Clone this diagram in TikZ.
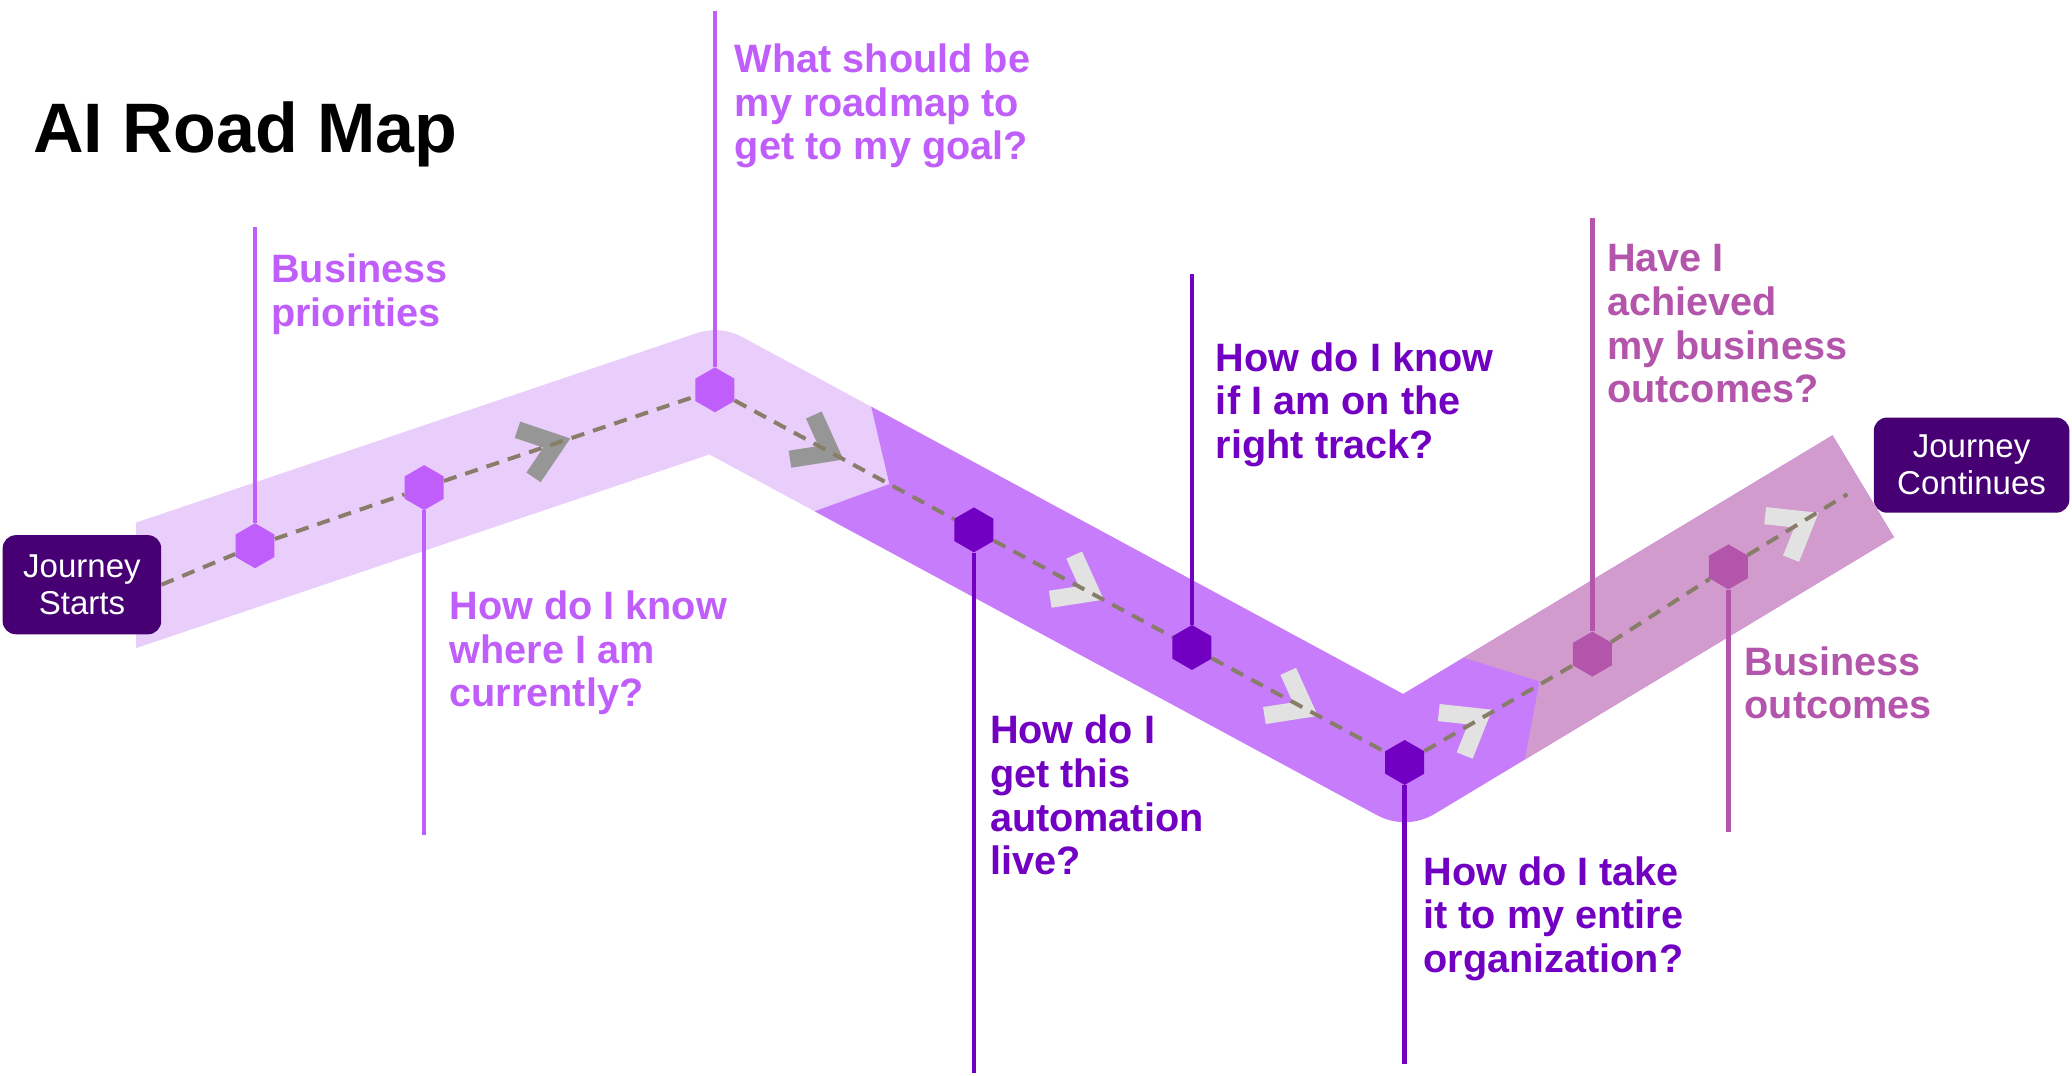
\documentclass[tikz,border=0pt]{standalone}
\usepackage{fontspec}
\setmainfont{Liberation Sans}
\usetikzlibrary{calc,shapes.geometric}
\definecolor{roadlilac}{RGB}{233,205,250}
\definecolor{roadviolet}{RGB}{199,124,251}
\definecolor{roadmauve}{RGB}{210,155,205}
\definecolor{ptlight}{RGB}{191,94,250}
\definecolor{ptdark}{RGB}{114,0,194}
\definecolor{ptmauve}{RGB}{180,85,172}
\definecolor{boxpurple}{RGB}{70,0,115}
\definecolor{trailgray}{RGB}{135,125,105}
\definecolor{chevgray}{RGB}{150,150,150}
\definecolor{chevlight}{RGB}{226,226,226}

\begin{document}
\begin{tikzpicture}[x=1pt,y=1pt,
  road/.style={draw=#1,line width=90pt,line join=round},
  chev/.style={draw=#1,line width=13pt,line join=miter},
  hexa/.style={regular polygon,regular polygon sides=6,shape border rotate=30,minimum size=34pt,inner sep=0pt,fill=#1},
  stem/.style={draw=#1,line width=3.5pt},
  trail/.style={draw=trailgray,line width=3pt,dash pattern=on 10pt off 7pt},
  lbl/.style={anchor=north west,inner sep=0pt,align=left,text=#1,font=\fontsize{30}{33}\selectfont\bfseries},
  jbox/.style={fill=boxpurple,text=white,rounded corners=10pt,align=center,inner sep=0pt,font=\fontsize{25}{28}\selectfont}]
\useasboundingbox (0,0) rectangle (1568,814);
\coordinate (P) at (60,356.5); \coordinate (A) at (541,519); \coordinate (B) at (1063,237); \coordinate (E) at (1410,446);
\coordinate (T1) at ($(A)!0.253!(B)$); \coordinate (T2) at ($(B)!0.294!(E)$);
\begin{scope}
\clip (103,0) rectangle (1568,814);
\draw[road=roadlilac] (P)--(A)--(B)--(E);
\begin{scope}[shift={(T1)},rotate=-28.38]
\clip (-60,67.5)--(0,0)--(-60,-67.5)--(-60,-2000)--(2000,-2000)--(2000,2000)--(-60,2000)--cycle;
\draw[road=roadviolet] (A)--(B)--(E);
\end{scope}
\begin{scope}[shift={(T2)},rotate=31.06]
\clip (-60,67.5)--(0,0)--(-60,-67.5)--(-60,-2000)--(2000,-2000)--(2000,2000)--(-60,2000)--cycle;
\draw[road=roadmauve] (B)--(E);
\end{scope}
\end{scope}
\draw[chev=chevgray,shift={(428,481)},rotate=18.67] (-32,19)--(-7,0)--(-32,-19);
\draw[chev=chevgray,shift={(635,468)},rotate=-28.38] (-32,19)--(-7,0)--(-32,-19);
\draw[chev=chevlight,shift={(832,362)},rotate=-28.38] (-32,19)--(-7,0)--(-32,-19);
\draw[chev=chevlight,shift={(994,274)},rotate=-28.38] (-32,19)--(-7,0)--(-32,-19);
\draw[chev=chevlight,shift={(1126,275)},rotate=31.06] (-32,19)--(-7,0)--(-32,-19);
\draw[chev=chevlight,shift={(1373,424)},rotate=31.06] (-32,19)--(-7,0)--(-32,-19);
\node[hexa=ptlight] (h1) at (193,401) {}; \node[hexa=ptlight] (h2) at (321,445) {}; \node[hexa=ptlight] (h3) at (A) {};
\node[hexa=ptdark] (h4) at (737,413) {}; \node[hexa=ptdark] (h5) at (902,324) {}; \node[hexa=ptdark] (h6) at (B) {};
\node[hexa=ptmauve] (h7) at (1205,319) {}; \node[hexa=ptmauve] (h8) at (1308,385) {};
\node[jbox,minimum width=120pt,minimum height=75pt] (js) at (62,371.5) {Journey\\Starts};
\coordinate (tend) at (1398,440);
\draw[trail] (js.east)--(h1)--(h2)--(h3)--(h4)--(h5)--(h6)--(h7)--(h8)--(tend);
\node[jbox,minimum width=148pt,minimum height=72pt] (jc) at (1492,462) {Journey\\Continues};
\coordinate (t1) at (193,642); \coordinate (t2) at (321,182); \coordinate (t3) at (541,806); \coordinate (t4) at (737,2);
\coordinate (t5) at (902,607); \coordinate (t6) at (1063,9); \coordinate (t7) at (1205,649); \coordinate (t8) at (1308,184);
\draw[stem=ptlight] (h1)--(t1); \draw[stem=ptlight] (h2)--(t2); \draw[stem=ptlight] (h3)--(t3);
\draw[stem=ptdark] (h4)--(t4); \draw[stem=ptdark] (h5)--(t5); \draw[stem=ptdark] (h6)--(t6);
\draw[stem=ptmauve] (h7)--(t7); \draw[stem=ptmauve] (h8)--(t8);
\node[anchor=north west,inner sep=0pt,font=\fontsize{53}{60}\selectfont\bfseries] (title) at (25,737) {AI Road Map};
\node[lbl=ptlight] (l1) at (205,622) {Business\\priorities};
\node[lbl=ptlight] (l2) at (340,367) {How do I know\\where I am\\currently?};
\node[lbl=ptlight] (l3) at (556,781) {What should be\\my roadmap to\\get to my goal?};
\node[lbl=ptdark] (l4) at (749,273) {How do I\\get this\\automation\\live?};
\node[lbl=ptdark] (l5) at (920,555) {How do I know\\if I am on the\\right track?};
\node[lbl=ptdark] (l6) at (1077,166) {How do I take\\it to my entire\\organization?};
\node[lbl=ptmauve] (l7) at (1216,629) {Have I\\achieved\\my business\\outcomes?};
\node[lbl=ptmauve] (l8) at (1320,325) {Business\\outcomes};
\end{tikzpicture}
\end{document}
